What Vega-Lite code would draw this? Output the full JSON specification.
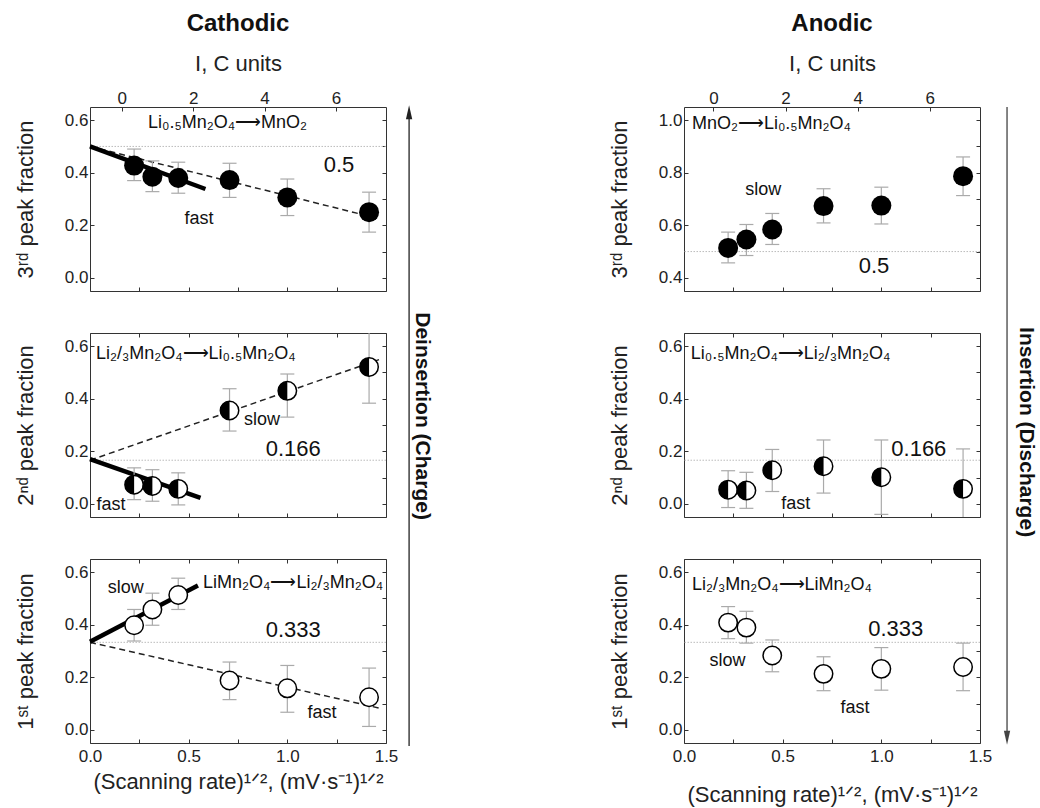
{
"$schema": "https://vega.github.io/schema/vega-lite/v6.json",
"padding": {"left": 13, "top": 11, "right": 2, "bottom": 2},
"background": "white",
"datasets": {
"pts": [
{"p":"C3","x":0.2236,"y":0.427,"lo":0.37,"hi":0.49},
{"p":"C3","x":0.3162,"y":0.385,"lo":0.328,"hi":0.445},
{"p":"C3","x":0.4472,"y":0.38,"lo":0.322,"hi":0.44},
{"p":"C3","x":0.7071,"y":0.372,"lo":0.306,"hi":0.436},
{"p":"C3","x":1.0,"y":0.306,"lo":0.237,"hi":0.376},
{"p":"C3","x":1.4142,"y":0.25,"lo":0.174,"hi":0.326},
{"p":"C2","x":0.2236,"y":0.073,"lo":0.016,"hi":0.137},
{"p":"C2","x":0.3162,"y":0.068,"lo":0.01,"hi":0.13},
{"p":"C2","x":0.4472,"y":0.057,"lo":-0.004,"hi":0.118},
{"p":"C2","x":0.7071,"y":0.355,"lo":0.277,"hi":0.438},
{"p":"C2","x":1.0,"y":0.43,"lo":0.33,"hi":0.494},
{"p":"C2","x":1.4142,"y":0.521,"lo":0.383,"hi":0.66},
{"p":"C1","x":0.2236,"y":0.398,"lo":0.338,"hi":0.458},
{"p":"C1","x":0.3162,"y":0.458,"lo":0.398,"hi":0.52},
{"p":"C1","x":0.4472,"y":0.513,"lo":0.458,"hi":0.577},
{"p":"C1","x":0.7071,"y":0.188,"lo":0.115,"hi":0.258},
{"p":"C1","x":1.0,"y":0.158,"lo":0.067,"hi":0.245},
{"p":"C1","x":1.4142,"y":0.124,"lo":0.013,"hi":0.235},
{"p":"A3","x":0.2236,"y":0.514,"lo":0.457,"hi":0.574},
{"p":"A3","x":0.3162,"y":0.546,"lo":0.485,"hi":0.603},
{"p":"A3","x":0.4472,"y":0.584,"lo":0.527,"hi":0.645},
{"p":"A3","x":0.7071,"y":0.673,"lo":0.609,"hi":0.739},
{"p":"A3","x":1.0,"y":0.675,"lo":0.605,"hi":0.745},
{"p":"A3","x":1.4142,"y":0.787,"lo":0.713,"hi":0.86},
{"p":"A2","x":0.2236,"y":0.054,"lo":-0.014,"hi":0.126},
{"p":"A2","x":0.3162,"y":0.051,"lo":-0.017,"hi":0.12},
{"p":"A2","x":0.4472,"y":0.128,"lo":0.047,"hi":0.207},
{"p":"A2","x":0.7071,"y":0.143,"lo":0.041,"hi":0.243},
{"p":"A2","x":1.0,"y":0.101,"lo":-0.04,"hi":0.243},
{"p":"A2","x":1.4142,"y":0.057,"lo":-0.095,"hi":0.209},
{"p":"A1","x":0.2236,"y":0.408,"lo":0.347,"hi":0.469},
{"p":"A1","x":0.3162,"y":0.389,"lo":0.33,"hi":0.451},
{"p":"A1","x":0.4472,"y":0.283,"lo":0.221,"hi":0.342},
{"p":"A1","x":0.7071,"y":0.213,"lo":0.149,"hi":0.278},
{"p":"A1","x":1.0,"y":0.232,"lo":0.151,"hi":0.313},
{"p":"A1","x":1.4142,"y":0.239,"lo":0.149,"hi":0.33}
],
"fits": [
{"p":"C3","fit":"low","x":0,"y":0.5},{"p":"C3","fit":"low","x":0.585,"y":0.338},
{"p":"C3","fit":"high","x":0,"y":0.5},{"p":"C3","fit":"high","x":1.47,"y":0.224},
{"p":"C2","fit":"low","x":0,"y":0.17},{"p":"C2","fit":"low","x":0.56,"y":0.023},
{"p":"C2","fit":"high","x":0,"y":0.166},{"p":"C2","fit":"high","x":1.47,"y":0.55},
{"p":"C1","fit":"low","x":0,"y":0.335},{"p":"C1","fit":"low","x":0.547,"y":0.549},
{"p":"C1","fit":"high","x":0,"y":0.333},{"p":"C1","fit":"high","x":1.47,"y":0.082}
],
"refs": [
{"p":"C3","y":0.5},{"p":"C2","y":0.166},{"p":"C1","y":0.333},
{"p":"A3","y":0.5},{"p":"A2","y":0.166},{"p":"A1","y":0.333}
],
"notes": [
{"p":"C3","k":"f","x":0.294,"y":0.59,"t":"Li₀.₅Mn₂O₄⟶MnO₂"},
{"p":"C2","k":"f","x":0.03,"y":0.57,"t":"Li₂/₃Mn₂O₄⟶Li₀.₅Mn₂O₄"},
{"p":"C1","k":"f","x":0.573,"y":0.558,"t":"LiMn₂O₄⟶Li₂/₃Mn₂O₄"},
{"p":"A3","k":"f","x":0.04,"y":0.984,"t":"MnO₂⟶Li₀.₅Mn₂O₄"},
{"p":"A2","k":"f","x":0.034,"y":0.571,"t":"Li₀.₅Mn₂O₄⟶Li₂/₃Mn₂O₄"},
{"p":"A1","k":"f","x":0.04,"y":0.552,"t":"Li₂/₃Mn₂O₄⟶LiMn₂O₄"},
{"p":"C3","k":"v","x":1.262,"y":0.431,"t":"0.5"},
{"p":"C2","k":"v","x":1.03,"y":0.21,"t":"0.166"},
{"p":"C1","k":"v","x":1.03,"y":0.379,"t":"0.333"},
{"p":"A3","k":"v","x":0.963,"y":0.445,"t":"0.5"},
{"p":"A2","k":"v","x":1.19,"y":0.209,"t":"0.166"},
{"p":"A1","k":"v","x":1.073,"y":0.383,"t":"0.333"},
{"p":"C3","k":"s","x":0.552,"y":0.224,"t":"fast"},
{"p":"C2","k":"s","x":0.872,"y":0.32,"t":"slow"},
{"p":"C2","k":"s","x":0.106,"y":-0.006,"t":"fast"},
{"p":"C1","k":"s","x":0.181,"y":0.539,"t":"slow"},
{"p":"C1","k":"s","x":1.176,"y":0.063,"t":"fast"},
{"p":"A3","k":"s","x":0.402,"y":0.736,"t":"slow"},
{"p":"A2","k":"s","x":0.566,"y":0.0,"t":"fast"},
{"p":"A1","k":"s","x":0.22,"y":0.262,"t":"slow"},
{"p":"A1","k":"s","x":0.867,"y":0.083,"t":"fast"}
],
"arrowLines": [{"p":"C2","x":1.617,"y":1.47,"y2":-0.921},{"p":"A2","x":1.637,"y":1.51,"y2":-0.87}],
"arrowHeads": [{"p":"C2","x":1.617,"y":1.49},{"p":"A2","x":1.637,"y":-0.89}],
"sideLabels": [{"p":"C2","x":1.682,"y":0.334,"t":"Deinsertion (Charge)"},{"p":"A2","x":1.733,"y":0.273,"t":"Insertion (Discharge)"}],
"ctick": [{"c":0},{"c":2},{"c":4},{"c":6}]
},
"columns": 2,
"bounds": "flush",
"spacing": {"row": 42, "column": 298},
"concat": [
{
"width": 296, "height": 184,
"title": {"text": "Cathodic", "fontSize": 24, "fontWeight": "bold", "offset": 16},
"layer": [
{"layer": [
{"data":{"name":"refs"},"transform":[{"filter":"datum.p=='C3'"}],"mark":{"type":"rule","color":"#bbb","strokeWidth":1,"strokeDash":[1.5,1.5]},
"encoding":{"y":{"field":"y","type":"quantitative","scale":{"domain":[-0.05,0.65],"nice":false,"zero":false},"axis":{"orient":"left","values":[0,0.1,0.2,0.3,0.4,0.5,0.6],"labelExpr":"round(datum.value*10) % 2 == 0 ? format(datum.value, '.1f') : ''","title":"3ʳᵈ peak fraction"}}}},
{"data":{"name":"fits"},"transform":[{"filter":"datum.p=='C3' && datum.fit=='high'"}],"mark":{"type":"line","color":"#222","strokeWidth":1.5,"strokeDash":[6,4]},
"encoding":{"x":{"field":"x","type":"quantitative","scale":{"domain":[0,1.5],"nice":false,"zero":false},"axis":{"orient":"bottom","values":[0,0.25,0.5,0.75,1,1.25,1.5],"labels":false,"title":null}},"y":{"field":"y","type":"quantitative"}}},
{"data":{"name":"fits"},"transform":[{"filter":"datum.p=='C3' && datum.fit=='low'"}],"mark":{"type":"line","color":"#000","strokeWidth":4.5},
"encoding":{"x":{"field":"x","type":"quantitative"},"y":{"field":"y","type":"quantitative"}}},
{"data":{"name":"pts"},"transform":[{"filter":"datum.p=='C3'"}],"mark":{"type":"rule","color":"#aaa","strokeWidth":1.2,"clip":true},
"encoding":{"x":{"field":"x","type":"quantitative"},"y":{"field":"lo","type":"quantitative"},"y2":{"field":"hi"}}},
{"data":{"name":"pts"},"transform":[{"filter":"datum.p=='C3'"}],"mark":{"type":"tick","orient":"horizontal","size":14,"thickness":1.2,"color":"#aaa","clip":true,"opacity":1},
"encoding":{"x":{"field":"x","type":"quantitative"},"y":{"field":"lo","type":"quantitative"}}},
{"data":{"name":"pts"},"transform":[{"filter":"datum.p=='C3'"}],"mark":{"type":"tick","orient":"horizontal","size":14,"thickness":1.2,"color":"#aaa","clip":true,"opacity":1},
"encoding":{"x":{"field":"x","type":"quantitative"},"y":{"field":"hi","type":"quantitative"}}},
{"data":{"name":"pts"},"transform":[{"filter":"datum.p=='C3'"}],"mark":{"type":"point","shape":"circle","size":400,"filled":true,"color":"#000","opacity":1},
"encoding":{"x":{"field":"x","type":"quantitative"},"y":{"field":"y","type":"quantitative"}}},
{"data":{"name":"notes"},"transform":[{"filter":"datum.p=='C3' && datum.k=='f'"}],"mark":{"type":"text","fontSize":18,"align":"left","baseline":"middle","color":"#111"},
"encoding":{"x":{"field":"x","type":"quantitative"},"y":{"field":"y","type":"quantitative"},"text":{"field":"t"}}},
{"data":{"name":"notes"},"transform":[{"filter":"datum.p=='C3' && datum.k=='v'"}],"mark":{"type":"text","fontSize":22,"align":"center","baseline":"middle","color":"#111"},
"encoding":{"x":{"field":"x","type":"quantitative"},"y":{"field":"y","type":"quantitative"},"text":{"field":"t"}}},
{"data":{"name":"notes"},"transform":[{"filter":"datum.p=='C3' && datum.k=='s'"}],"mark":{"type":"text","fontSize":18,"align":"center","baseline":"middle","color":"#111"},
"encoding":{"x":{"field":"x","type":"quantitative"},"y":{"field":"y","type":"quantitative"},"text":{"field":"t"}}}
]},
{"data":{"name":"ctick"},"mark":{"type":"point","opacity":0},
"encoding":{"x":{"field":"c","type":"quantitative","scale":{"domain":[-0.888,7.4],"nice":false,"zero":false},"axis":{"orient":"top","values":[0,2,4,6],"title":"I, C units"}}}},
{"data":{"name":"pts"},"transform":[{"filter":"datum.p=='C3'"}],"mark":{"type":"point","opacity":0},
"encoding":{"y":{"field":"y","type":"quantitative","axis":{"orient":"right","values":[0,0.1,0.2,0.3,0.4,0.5,0.6],"labels":false,"title":null}}}}
],
"resolve": {"scale": {"x": "independent"}, "axis": {"x": "independent", "y": "independent"}}
},
{
"width": 296, "height": 184,
"title": {"text": "Anodic", "fontSize": 24, "fontWeight": "bold", "offset": 16},
"layer": [
{"layer": [
{"data":{"name":"refs"},"transform":[{"filter":"datum.p=='A3'"}],"mark":{"type":"rule","color":"#bbb","strokeWidth":1,"strokeDash":[1.5,1.5]},
"encoding":{"y":{"field":"y","type":"quantitative","scale":{"domain":[0.35,1.05],"nice":false,"zero":false},"axis":{"orient":"left","values":[0.4,0.5,0.6,0.7,0.8,0.9,1.0],"labelExpr":"round(datum.value*10) % 2 == 0 ? format(datum.value, '.1f') : ''","title":"3ʳᵈ peak fraction"}}}},
{"data":{"name":"pts"},"transform":[{"filter":"datum.p=='A3'"}],"mark":{"type":"rule","color":"#aaa","strokeWidth":1.2,"clip":true},
"encoding":{"x":{"field":"x","type":"quantitative","scale":{"domain":[0,1.5],"nice":false,"zero":false},"axis":{"orient":"bottom","values":[0,0.25,0.5,0.75,1,1.25,1.5],"labels":false,"title":null}},"y":{"field":"lo","type":"quantitative"},"y2":{"field":"hi"}}},
{"data":{"name":"pts"},"transform":[{"filter":"datum.p=='A3'"}],"mark":{"type":"tick","orient":"horizontal","size":14,"thickness":1.2,"color":"#aaa","clip":true,"opacity":1},
"encoding":{"x":{"field":"x","type":"quantitative"},"y":{"field":"lo","type":"quantitative"}}},
{"data":{"name":"pts"},"transform":[{"filter":"datum.p=='A3'"}],"mark":{"type":"tick","orient":"horizontal","size":14,"thickness":1.2,"color":"#aaa","clip":true,"opacity":1},
"encoding":{"x":{"field":"x","type":"quantitative"},"y":{"field":"hi","type":"quantitative"}}},
{"data":{"name":"pts"},"transform":[{"filter":"datum.p=='A3'"}],"mark":{"type":"point","shape":"circle","size":400,"filled":true,"color":"#000","opacity":1},
"encoding":{"x":{"field":"x","type":"quantitative"},"y":{"field":"y","type":"quantitative"}}},
{"data":{"name":"notes"},"transform":[{"filter":"datum.p=='A3' && datum.k=='f'"}],"mark":{"type":"text","fontSize":18,"align":"left","baseline":"middle","color":"#111"},
"encoding":{"x":{"field":"x","type":"quantitative"},"y":{"field":"y","type":"quantitative"},"text":{"field":"t"}}},
{"data":{"name":"notes"},"transform":[{"filter":"datum.p=='A3' && datum.k=='v'"}],"mark":{"type":"text","fontSize":22,"align":"center","baseline":"middle","color":"#111"},
"encoding":{"x":{"field":"x","type":"quantitative"},"y":{"field":"y","type":"quantitative"},"text":{"field":"t"}}},
{"data":{"name":"notes"},"transform":[{"filter":"datum.p=='A3' && datum.k=='s'"}],"mark":{"type":"text","fontSize":18,"align":"center","baseline":"middle","color":"#111"},
"encoding":{"x":{"field":"x","type":"quantitative"},"y":{"field":"y","type":"quantitative"},"text":{"field":"t"}}}
]},
{"data":{"name":"ctick"},"mark":{"type":"point","opacity":0},
"encoding":{"x":{"field":"c","type":"quantitative","scale":{"domain":[-0.815,7.39],"nice":false,"zero":false},"axis":{"orient":"top","values":[0,2,4,6],"title":"I, C units"}}}},
{"data":{"name":"pts"},"transform":[{"filter":"datum.p=='A3'"}],"mark":{"type":"point","opacity":0},
"encoding":{"y":{"field":"y","type":"quantitative","axis":{"orient":"right","values":[0.4,0.5,0.6,0.7,0.8,0.9,1.0],"labels":false,"title":null}}}}
],
"resolve": {"scale": {"x": "independent"}, "axis": {"x": "independent", "y": "independent"}}
},
{
"width": 296, "height": 184,
"layer": [
{"layer": [
{"data":{"name":"refs"},"transform":[{"filter":"datum.p=='C2'"}],"mark":{"type":"rule","color":"#bbb","strokeWidth":1,"strokeDash":[1.5,1.5]},
"encoding":{"y":{"field":"y","type":"quantitative","scale":{"domain":[-0.05,0.65],"nice":false,"zero":false},"axis":{"orient":"left","values":[0,0.1,0.2,0.3,0.4,0.5,0.6],"labelExpr":"round(datum.value*10) % 2 == 0 ? format(datum.value, '.1f') : ''","title":"2ⁿᵈ peak fraction"}}}},
{"data":{"name":"fits"},"transform":[{"filter":"datum.p=='C2' && datum.fit=='high'"}],"mark":{"type":"line","color":"#222","strokeWidth":1.5,"strokeDash":[6,4]},
"encoding":{"x":{"field":"x","type":"quantitative","scale":{"domain":[0,1.5],"nice":false,"zero":false},"axis":{"orient":"bottom","values":[0,0.25,0.5,0.75,1,1.25,1.5],"labels":false,"title":null}},"y":{"field":"y","type":"quantitative"}}},
{"data":{"name":"fits"},"transform":[{"filter":"datum.p=='C2' && datum.fit=='low'"}],"mark":{"type":"line","color":"#000","strokeWidth":4.5},
"encoding":{"x":{"field":"x","type":"quantitative"},"y":{"field":"y","type":"quantitative"}}},
{"data":{"name":"pts"},"transform":[{"filter":"datum.p=='C2'"}],"mark":{"type":"rule","color":"#aaa","strokeWidth":1.2,"clip":true},
"encoding":{"x":{"field":"x","type":"quantitative"},"y":{"field":"lo","type":"quantitative"},"y2":{"field":"hi"}}},
{"data":{"name":"pts"},"transform":[{"filter":"datum.p=='C2'"}],"mark":{"type":"tick","orient":"horizontal","size":14,"thickness":1.2,"color":"#aaa","clip":true,"opacity":1},
"encoding":{"x":{"field":"x","type":"quantitative"},"y":{"field":"lo","type":"quantitative"}}},
{"data":{"name":"pts"},"transform":[{"filter":"datum.p=='C2'"}],"mark":{"type":"tick","orient":"horizontal","size":14,"thickness":1.2,"color":"#aaa","clip":true,"opacity":1},
"encoding":{"x":{"field":"x","type":"quantitative"},"y":{"field":"hi","type":"quantitative"}}},
{"data":{"name":"pts"},"transform":[{"filter":"datum.p=='C2'"}],"mark":{"type":"point","shape":"circle","size":340,"filled":true,"fill":"#fff","stroke":"#000","strokeWidth":1.5,"opacity":1},
"encoding":{"x":{"field":"x","type":"quantitative"},"y":{"field":"y","type":"quantitative"}}},
{"data":{"name":"pts"},"transform":[{"filter":"datum.p=='C2'"}],"mark":{"type":"point","shape":"M0,-1A1,1,0,0,0,0,1Z","size":340,"filled":true,"color":"#000","opacity":1},
"encoding":{"x":{"field":"x","type":"quantitative"},"y":{"field":"y","type":"quantitative"}}},
{"data":{"name":"notes"},"transform":[{"filter":"datum.p=='C2' && datum.k=='f'"}],"mark":{"type":"text","fontSize":18,"align":"left","baseline":"middle","color":"#111"},
"encoding":{"x":{"field":"x","type":"quantitative"},"y":{"field":"y","type":"quantitative"},"text":{"field":"t"}}},
{"data":{"name":"notes"},"transform":[{"filter":"datum.p=='C2' && datum.k=='v'"}],"mark":{"type":"text","fontSize":22,"align":"center","baseline":"middle","color":"#111"},
"encoding":{"x":{"field":"x","type":"quantitative"},"y":{"field":"y","type":"quantitative"},"text":{"field":"t"}}},
{"data":{"name":"notes"},"transform":[{"filter":"datum.p=='C2' && datum.k=='s'"}],"mark":{"type":"text","fontSize":18,"align":"center","baseline":"middle","color":"#111"},
"encoding":{"x":{"field":"x","type":"quantitative"},"y":{"field":"y","type":"quantitative"},"text":{"field":"t"}}},
{"data":{"name":"arrowLines"},"transform":[{"filter":"datum.p=='C2'"}],"mark":{"type":"rule","color":"#222","strokeWidth":1.3},
"encoding":{"x":{"field":"x","type":"quantitative"},"y":{"field":"y","type":"quantitative"},"y2":{"field":"y2"}}},
{"data":{"name":"arrowHeads"},"transform":[{"filter":"datum.p=='C2'"}],"mark":{"type":"point","shape":"M0,-1L0.45,1L-0.45,1Z","size":196,"filled":true,"color":"#222","opacity":1},
"encoding":{"x":{"field":"x","type":"quantitative"},"y":{"field":"y","type":"quantitative"}}},
{"data":{"name":"sideLabels"},"transform":[{"filter":"datum.p=='C2'"}],"mark":{"type":"text","fontSize":21,"fontWeight":"bold","angle":90,"align":"center","baseline":"middle","color":"#111"},
"encoding":{"x":{"field":"x","type":"quantitative"},"y":{"field":"y","type":"quantitative"},"text":{"field":"t"}}}
]},
{"data":{"name":"pts"},"transform":[{"filter":"datum.p=='C2'"}],"mark":{"type":"point","opacity":0},
"encoding":{"x":{"field":"x","type":"quantitative","axis":{"orient":"top","values":[0,0.25,0.5,0.75,1,1.25,1.5],"labels":false,"title":null}},
"y":{"field":"y","type":"quantitative","axis":{"orient":"right","values":[0,0.1,0.2,0.3,0.4,0.5,0.6],"labels":false,"title":null}}}}
],
"resolve": {"axis": {"x": "independent", "y": "independent"}}
},
{
"width": 296, "height": 184,
"layer": [
{"layer": [
{"data":{"name":"refs"},"transform":[{"filter":"datum.p=='A2'"}],"mark":{"type":"rule","color":"#bbb","strokeWidth":1,"strokeDash":[1.5,1.5]},
"encoding":{"y":{"field":"y","type":"quantitative","scale":{"domain":[-0.05,0.65],"nice":false,"zero":false},"axis":{"orient":"left","values":[0,0.1,0.2,0.3,0.4,0.5,0.6],"labelExpr":"round(datum.value*10) % 2 == 0 ? format(datum.value, '.1f') : ''","title":"2ⁿᵈ peak fraction"}}}},
{"data":{"name":"pts"},"transform":[{"filter":"datum.p=='A2'"}],"mark":{"type":"rule","color":"#aaa","strokeWidth":1.2,"clip":true},
"encoding":{"x":{"field":"x","type":"quantitative","scale":{"domain":[0,1.5],"nice":false,"zero":false},"axis":{"orient":"bottom","values":[0,0.25,0.5,0.75,1,1.25,1.5],"labels":false,"title":null}},"y":{"field":"lo","type":"quantitative"},"y2":{"field":"hi"}}},
{"data":{"name":"pts"},"transform":[{"filter":"datum.p=='A2'"}],"mark":{"type":"tick","orient":"horizontal","size":14,"thickness":1.2,"color":"#aaa","clip":true,"opacity":1},
"encoding":{"x":{"field":"x","type":"quantitative"},"y":{"field":"lo","type":"quantitative"}}},
{"data":{"name":"pts"},"transform":[{"filter":"datum.p=='A2'"}],"mark":{"type":"tick","orient":"horizontal","size":14,"thickness":1.2,"color":"#aaa","clip":true,"opacity":1},
"encoding":{"x":{"field":"x","type":"quantitative"},"y":{"field":"hi","type":"quantitative"}}},
{"data":{"name":"pts"},"transform":[{"filter":"datum.p=='A2'"}],"mark":{"type":"point","shape":"circle","size":340,"filled":true,"fill":"#fff","stroke":"#000","strokeWidth":1.5,"opacity":1},
"encoding":{"x":{"field":"x","type":"quantitative"},"y":{"field":"y","type":"quantitative"}}},
{"data":{"name":"pts"},"transform":[{"filter":"datum.p=='A2'"}],"mark":{"type":"point","shape":"M0,-1A1,1,0,0,0,0,1Z","size":340,"filled":true,"color":"#000","opacity":1},
"encoding":{"x":{"field":"x","type":"quantitative"},"y":{"field":"y","type":"quantitative"}}},
{"data":{"name":"notes"},"transform":[{"filter":"datum.p=='A2' && datum.k=='f'"}],"mark":{"type":"text","fontSize":18,"align":"left","baseline":"middle","color":"#111"},
"encoding":{"x":{"field":"x","type":"quantitative"},"y":{"field":"y","type":"quantitative"},"text":{"field":"t"}}},
{"data":{"name":"notes"},"transform":[{"filter":"datum.p=='A2' && datum.k=='v'"}],"mark":{"type":"text","fontSize":22,"align":"center","baseline":"middle","color":"#111"},
"encoding":{"x":{"field":"x","type":"quantitative"},"y":{"field":"y","type":"quantitative"},"text":{"field":"t"}}},
{"data":{"name":"notes"},"transform":[{"filter":"datum.p=='A2' && datum.k=='s'"}],"mark":{"type":"text","fontSize":18,"align":"center","baseline":"middle","color":"#111"},
"encoding":{"x":{"field":"x","type":"quantitative"},"y":{"field":"y","type":"quantitative"},"text":{"field":"t"}}},
{"data":{"name":"arrowLines"},"transform":[{"filter":"datum.p=='A2'"}],"mark":{"type":"rule","color":"#444","strokeWidth":1.3},
"encoding":{"x":{"field":"x","type":"quantitative"},"y":{"field":"y","type":"quantitative"},"y2":{"field":"y2"}}},
{"data":{"name":"arrowHeads"},"transform":[{"filter":"datum.p=='A2'"}],"mark":{"type":"point","shape":"M0,1L0.45,-1L-0.45,-1Z","size":196,"filled":true,"color":"#444","opacity":1},
"encoding":{"x":{"field":"x","type":"quantitative"},"y":{"field":"y","type":"quantitative"}}},
{"data":{"name":"sideLabels"},"transform":[{"filter":"datum.p=='A2'"}],"mark":{"type":"text","fontSize":21,"fontWeight":"bold","angle":90,"align":"center","baseline":"middle","color":"#111"},
"encoding":{"x":{"field":"x","type":"quantitative"},"y":{"field":"y","type":"quantitative"},"text":{"field":"t"}}}
]},
{"data":{"name":"pts"},"transform":[{"filter":"datum.p=='A2'"}],"mark":{"type":"point","opacity":0},
"encoding":{"x":{"field":"x","type":"quantitative","axis":{"orient":"top","values":[0,0.25,0.5,0.75,1,1.25,1.5],"labels":false,"title":null}},
"y":{"field":"y","type":"quantitative","axis":{"orient":"right","values":[0,0.1,0.2,0.3,0.4,0.5,0.6],"labels":false,"title":null}}}}
],
"resolve": {"axis": {"x": "independent", "y": "independent"}}
},
{
"width": 296, "height": 184,
"layer": [
{"layer": [
{"data":{"name":"refs"},"transform":[{"filter":"datum.p=='C1'"}],"mark":{"type":"rule","color":"#bbb","strokeWidth":1,"strokeDash":[1.5,1.5]},
"encoding":{"y":{"field":"y","type":"quantitative","scale":{"domain":[-0.05,0.65],"nice":false,"zero":false},"axis":{"orient":"left","values":[0,0.1,0.2,0.3,0.4,0.5,0.6],"labelExpr":"round(datum.value*10) % 2 == 0 ? format(datum.value, '.1f') : ''","title":"1ˢᵗ peak fraction"}}}},
{"data":{"name":"fits"},"transform":[{"filter":"datum.p=='C1' && datum.fit=='high'"}],"mark":{"type":"line","color":"#222","strokeWidth":1.5,"strokeDash":[6,4]},
"encoding":{"x":{"field":"x","type":"quantitative","scale":{"domain":[0,1.5],"nice":false,"zero":false},"axis":{"orient":"bottom","values":[0,0.25,0.5,0.75,1,1.25,1.5],"labelExpr":"datum.value % 0.5 == 0 ? format(datum.value, '.1f') : ''","title":"(Scanning rate)¹ᐟ², (mV·s⁻¹)¹ᐟ²","titlePadding":7}},"y":{"field":"y","type":"quantitative"}}},
{"data":{"name":"fits"},"transform":[{"filter":"datum.p=='C1' && datum.fit=='low'"}],"mark":{"type":"line","color":"#000","strokeWidth":4.5},
"encoding":{"x":{"field":"x","type":"quantitative"},"y":{"field":"y","type":"quantitative"}}},
{"data":{"name":"pts"},"transform":[{"filter":"datum.p=='C1'"}],"mark":{"type":"rule","color":"#aaa","strokeWidth":1.2,"clip":true},
"encoding":{"x":{"field":"x","type":"quantitative"},"y":{"field":"lo","type":"quantitative"},"y2":{"field":"hi"}}},
{"data":{"name":"pts"},"transform":[{"filter":"datum.p=='C1'"}],"mark":{"type":"tick","orient":"horizontal","size":14,"thickness":1.2,"color":"#aaa","clip":true,"opacity":1},
"encoding":{"x":{"field":"x","type":"quantitative"},"y":{"field":"lo","type":"quantitative"}}},
{"data":{"name":"pts"},"transform":[{"filter":"datum.p=='C1'"}],"mark":{"type":"tick","orient":"horizontal","size":14,"thickness":1.2,"color":"#aaa","clip":true,"opacity":1},
"encoding":{"x":{"field":"x","type":"quantitative"},"y":{"field":"hi","type":"quantitative"}}},
{"data":{"name":"pts"},"transform":[{"filter":"datum.p=='C1'"}],"mark":{"type":"point","shape":"circle","size":340,"filled":true,"fill":"#fff","stroke":"#000","strokeWidth":1.5,"opacity":1},
"encoding":{"x":{"field":"x","type":"quantitative"},"y":{"field":"y","type":"quantitative"}}},
{"data":{"name":"notes"},"transform":[{"filter":"datum.p=='C1' && datum.k=='f'"}],"mark":{"type":"text","fontSize":18,"align":"left","baseline":"middle","color":"#111"},
"encoding":{"x":{"field":"x","type":"quantitative"},"y":{"field":"y","type":"quantitative"},"text":{"field":"t"}}},
{"data":{"name":"notes"},"transform":[{"filter":"datum.p=='C1' && datum.k=='v'"}],"mark":{"type":"text","fontSize":22,"align":"center","baseline":"middle","color":"#111"},
"encoding":{"x":{"field":"x","type":"quantitative"},"y":{"field":"y","type":"quantitative"},"text":{"field":"t"}}},
{"data":{"name":"notes"},"transform":[{"filter":"datum.p=='C1' && datum.k=='s'"}],"mark":{"type":"text","fontSize":18,"align":"center","baseline":"middle","color":"#111"},
"encoding":{"x":{"field":"x","type":"quantitative"},"y":{"field":"y","type":"quantitative"},"text":{"field":"t"}}}
]},
{"data":{"name":"pts"},"transform":[{"filter":"datum.p=='C1'"}],"mark":{"type":"point","opacity":0},
"encoding":{"x":{"field":"x","type":"quantitative","axis":{"orient":"top","values":[0,0.25,0.5,0.75,1,1.25,1.5],"labels":false,"title":null}},
"y":{"field":"y","type":"quantitative","axis":{"orient":"right","values":[0,0.1,0.2,0.3,0.4,0.5,0.6],"labels":false,"title":null}}}}
],
"resolve": {"axis": {"x": "independent", "y": "independent"}}
},
{
"width": 296, "height": 184,
"layer": [
{"layer": [
{"data":{"name":"refs"},"transform":[{"filter":"datum.p=='A1'"}],"mark":{"type":"rule","color":"#bbb","strokeWidth":1,"strokeDash":[1.5,1.5]},
"encoding":{"y":{"field":"y","type":"quantitative","scale":{"domain":[-0.05,0.65],"nice":false,"zero":false},"axis":{"orient":"left","values":[0,0.1,0.2,0.3,0.4,0.5,0.6],"labelExpr":"round(datum.value*10) % 2 == 0 ? format(datum.value, '.1f') : ''","title":"1ˢᵗ peak fraction"}}}},
{"data":{"name":"pts"},"transform":[{"filter":"datum.p=='A1'"}],"mark":{"type":"rule","color":"#aaa","strokeWidth":1.2,"clip":true},
"encoding":{"x":{"field":"x","type":"quantitative","scale":{"domain":[0,1.5],"nice":false,"zero":false},"axis":{"orient":"bottom","values":[0,0.25,0.5,0.75,1,1.25,1.5],"labelExpr":"datum.value % 0.5 == 0 ? format(datum.value, '.1f') : ''","title":"(Scanning rate)¹ᐟ², (mV·s⁻¹)¹ᐟ²","titlePadding":20}},"y":{"field":"lo","type":"quantitative"},"y2":{"field":"hi"}}},
{"data":{"name":"pts"},"transform":[{"filter":"datum.p=='A1'"}],"mark":{"type":"tick","orient":"horizontal","size":14,"thickness":1.2,"color":"#aaa","clip":true,"opacity":1},
"encoding":{"x":{"field":"x","type":"quantitative"},"y":{"field":"lo","type":"quantitative"}}},
{"data":{"name":"pts"},"transform":[{"filter":"datum.p=='A1'"}],"mark":{"type":"tick","orient":"horizontal","size":14,"thickness":1.2,"color":"#aaa","clip":true,"opacity":1},
"encoding":{"x":{"field":"x","type":"quantitative"},"y":{"field":"hi","type":"quantitative"}}},
{"data":{"name":"pts"},"transform":[{"filter":"datum.p=='A1'"}],"mark":{"type":"point","shape":"circle","size":340,"filled":true,"fill":"#fff","stroke":"#000","strokeWidth":1.5,"opacity":1},
"encoding":{"x":{"field":"x","type":"quantitative"},"y":{"field":"y","type":"quantitative"}}},
{"data":{"name":"notes"},"transform":[{"filter":"datum.p=='A1' && datum.k=='f'"}],"mark":{"type":"text","fontSize":18,"align":"left","baseline":"middle","color":"#111"},
"encoding":{"x":{"field":"x","type":"quantitative"},"y":{"field":"y","type":"quantitative"},"text":{"field":"t"}}},
{"data":{"name":"notes"},"transform":[{"filter":"datum.p=='A1' && datum.k=='v'"}],"mark":{"type":"text","fontSize":22,"align":"center","baseline":"middle","color":"#111"},
"encoding":{"x":{"field":"x","type":"quantitative"},"y":{"field":"y","type":"quantitative"},"text":{"field":"t"}}},
{"data":{"name":"notes"},"transform":[{"filter":"datum.p=='A1' && datum.k=='s'"}],"mark":{"type":"text","fontSize":18,"align":"center","baseline":"middle","color":"#111"},
"encoding":{"x":{"field":"x","type":"quantitative"},"y":{"field":"y","type":"quantitative"},"text":{"field":"t"}}}
]},
{"data":{"name":"pts"},"transform":[{"filter":"datum.p=='A1'"}],"mark":{"type":"point","opacity":0},
"encoding":{"x":{"field":"x","type":"quantitative","axis":{"orient":"top","values":[0,0.25,0.5,0.75,1,1.25,1.5],"labels":false,"title":null}},
"y":{"field":"y","type":"quantitative","axis":{"orient":"right","values":[0,0.1,0.2,0.3,0.4,0.5,0.6],"labels":false,"title":null}}}}
],
"resolve": {"axis": {"x": "independent", "y": "independent"}}
}
],
"config": {
"font": "Liberation Sans",
"view": {"stroke": "#333", "strokeWidth": 1},
"axis": {"labelFontSize": 17, "titleFontSize": 22, "titleFontWeight": "normal", "labelColor": "#222", "titleColor": "#222", "tickColor": "#333", "labelFlush": false, "labelOverlap": false, "grid": false, "domain": false, "tickSize": -4},
"axisLeft": {"labelPadding": 6, "titlePadding": 27},
"axisBottom": {"labelPadding": 9},
"axisTop": {"labelPadding": 4, "titlePadding": 14},
"title": {"color": "#111"}
}
}
